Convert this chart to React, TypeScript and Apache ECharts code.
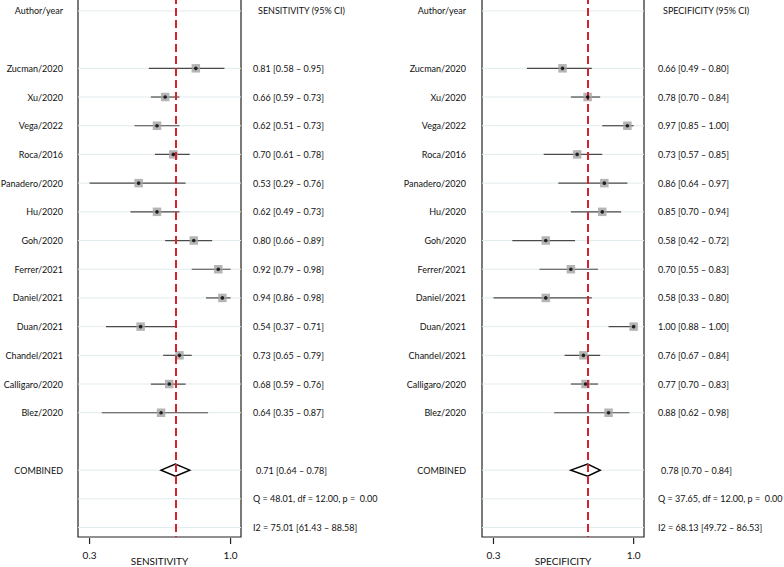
import React, { useEffect, useRef } from "react";
import * as echarts from "echarts";

const studies = [
  "Zucman/2020", "Xu/2020", "Vega/2022", "Roca/2016", "Panadero/2020", "Hu/2020", "Goh/2020",
  "Ferrer/2021", "Daniel/2021", "Duan/2021", "Chandel/2021", "Calligaro/2020", "Blez/2020",
];
const sensEst = [0.81, 0.66, 0.62, 0.70, 0.53, 0.62, 0.80, 0.92, 0.94, 0.54, 0.73, 0.68, 0.64];
const sensLo = [0.58, 0.59, 0.51, 0.61, 0.29, 0.49, 0.66, 0.79, 0.86, 0.37, 0.65, 0.59, 0.35];
const sensHi = [0.95, 0.73, 0.73, 0.78, 0.76, 0.73, 0.89, 0.98, 0.98, 0.71, 0.79, 0.76, 0.87];
const specEst = [0.66, 0.78, 0.97, 0.73, 0.86, 0.85, 0.58, 0.70, 0.58, 1.00, 0.76, 0.77, 0.88];
const specLo = [0.49, 0.70, 0.85, 0.57, 0.64, 0.70, 0.42, 0.55, 0.33, 0.88, 0.67, 0.70, 0.62];
const specHi = [0.80, 0.84, 1.00, 0.85, 0.97, 0.94, 0.72, 0.83, 0.80, 1.00, 0.84, 0.83, 0.98];
const sensCombined = [0.71, 0.64, 0.78];
const specCombined = [0.78, 0.70, 0.84];
const sensStats = ["Q = 48.01, df = 12.00, p =  0.00", "I2 = 75.01 [61.43 \u2013 88.58]"];
const specStats = ["Q = 37.65, df = 12.00, p =  0.00", "I2 = 68.13 [49.72 \u2013 86.53]"];
const headers = ["Author/year", "SENSITIVITY (95% CI)", "SPECIFICITY (95% CI)"];
const axisNames = ["SENSITIVITY", "SPECIFICITY"];
const combinedLabel = "COMBINED";

const FONT = "Lato";
const FS = 9.0;
const fmt = (e: number, l: number, h: number) => `${e.toFixed(2)} [${l.toFixed(2)} \u2013 ${h.toFixed(2)}]`;

export default function App() {
  const ref = useRef<HTMLDivElement>(null);
  useEffect(() => {
    const chart = echarts.init(ref.current!, null, { renderer: "svg" });
    const panels = [
      { est: sensEst, lo: sensLo, hi: sensHi, comb: sensCombined, stats: sensStats, header: headers[1], name: axisNames[0], left: 78, width: 163, lblOff: 15, valOff: 12 },
      { est: specEst, lo: specLo, hi: specHi, comb: specCombined, stats: specStats, header: headers[2], name: axisNames[1], left: 482, width: 162, lblOff: 16, valOff: 14 },
    ];
    const grids: any[] = [];
    const xAxes: any[] = [];
    const yAxes: any[] = [];
    const series: any[] = [];
    const contentRows = [0, ...studies.map((_, i) => i + 2), 16, 17, 18];
    panels.forEach((p, k) => {
      const tLo = Math.min(...p.lo);
      const tHi = Math.max(...p.hi);
      const span = tHi - tLo;
      const xmin = tLo - 0.082 * span;
      const xmax = tHi + 0.074 * span;
      grids.push({
        left: p.left, width: p.width, top: -4, height: 541, outerBoundsMode: "none", containLabel: false,
        show: true, borderColor: "#222", borderWidth: 1.2, backgroundColor: "transparent",
      });
      xAxes.push({
        gridIndex: k, type: "value", min: xmin, max: xmax,
        axisLine: { show: false }, splitLine: { show: false }, axisTick: { show: false },
        axisLabel: { customValues: [tLo, tHi], formatter: (v: number) => v.toFixed(1), fontSize: 10, color: "#111", margin: 13, fontFamily: FONT },
        name: p.name, nameLocation: "middle", nameGap: 19, nameMoveOverlap: false,
        nameTextStyle: { fontSize: 10, color: "#111", fontFamily: FONT },
      });
      yAxes.push({ gridIndex: k, type: "value", inverse: true, min: -0.52, max: 18.33, show: false });

      // horizontal row lines
      series.push({
        type: "custom", xAxisIndex: k, yAxisIndex: k, silent: true, clip: false,
        encode: { x: 0, y: 1 },
        data: contentRows.map((r) => [xmin, r]),
        renderItem: (params: any, api: any) => {
          const y = api.coord([xmin, api.value(1)])[1];
          const cs = params.coordSys;
          return { type: "line", shape: { x1: cs.x, y1: y, x2: cs.x + cs.width, y2: y }, style: { stroke: "#e2ebee", lineWidth: 1 } };
        },
        z: 1,
      });
      // axis ticks
      series.push({
        type: "custom", xAxisIndex: k, yAxisIndex: k, silent: true, clip: false,
        encode: { x: 0, y: 1 },
        data: [[tLo, 18.33], [tHi, 18.33]],
        renderItem: (params: any, api: any) => {
          const x = api.coord([api.value(0), api.value(1)])[0];
          const cs = params.coordSys;
          const yb = cs.y + cs.height;
          return { type: "line", shape: { x1: x, y1: yb + 1, x2: x, y2: yb + 7 }, style: { stroke: "#222", lineWidth: 1.2 } };
        },
        z: 2,
      });
      // CI lines
      series.push({
        type: "custom", xAxisIndex: k, yAxisIndex: k, silent: true,
        encode: { x: [0, 1], y: 2 },
        data: p.lo.map((l, i) => [l, p.hi[i], i + 2]),
        renderItem: (params: any, api: any) => {
          const a = api.coord([api.value(0), api.value(2)]);
          const b = api.coord([api.value(1), api.value(2)]);
          return { type: "line", shape: { x1: a[0], y1: a[1], x2: b[0], y2: b[1] }, style: { stroke: "#4a4a4a", lineWidth: 1.2 } };
        },
        z: 3,
      });
      // squares
      series.push({
        type: "scatter", xAxisIndex: k, yAxisIndex: k, silent: true,
        symbol: "rect", symbolSize: 8.5, itemStyle: { color: "#a3a3a3" },
        data: p.est.map((e, i) => [e, i + 2]),
        z: 4,
        markLine: {
          silent: true, symbol: ["none", "none"], label: { show: false },
          lineStyle: { color: "#d6222e", type: [8, 4], width: 2 },
          data: [{ xAxis: p.comb[0] }],
        },
      });
      // dots
      series.push({
        type: "scatter", xAxisIndex: k, yAxisIndex: k, silent: true,
        symbol: "circle", symbolSize: 3.6, itemStyle: { color: "#000" },
        data: p.est.map((e, i) => [e, i + 2]),
        z: 5,
      });
      // diamond
      series.push({
        type: "custom", xAxisIndex: k, yAxisIndex: k, silent: true,
        encode: { x: [0, 1, 2], y: 3 },
        data: [[p.comb[1], p.comb[0], p.comb[2], 16]],
        renderItem: (params: any, api: any) => {
          const r = api.value(3);
          const a = api.coord([api.value(0), r]);
          const m = api.coord([api.value(1), r]);
          const b = api.coord([api.value(2), r]);
          return {
            type: "polygon",
            shape: { points: [[a[0], a[1]], [m[0], m[1] - 6], [b[0], b[1]], [m[0], m[1] + 6]] },
            style: { fill: "#fff", stroke: "#000", lineWidth: 1.5 },
          };
        },
        z: 3,
      });
      // text: left labels and right values
      const leftTexts: [number, string][] = [[0, headers[0]], ...studies.map((s, i) => [i + 2, s] as [number, string]), [16, combinedLabel]];
      const rightTexts: [number, string, number][] = [
        [0, p.header, 5],
        ...p.est.map((e, i) => [i + 2, fmt(e, p.lo[i], p.hi[i]), 0] as [number, string, number]),
        [16, fmt(p.comb[0], p.comb[1], p.comb[2]), 3],
        [17, p.stats[0], 0],
        [18, p.stats[1], 0],
      ];
      series.push({
        type: "custom", xAxisIndex: k, yAxisIndex: k, silent: true, clip: false,
        encode: { x: 0, y: 1 },
        data: leftTexts.map((t, i) => [xmin, t[0], i]),
        renderItem: (params: any, api: any) => {
          const y = api.coord([xmin, api.value(1)])[1];
          const cs = params.coordSys;
          return {
            type: "text", x: cs.x - p.lblOff, y,
            style: { text: leftTexts[api.value(2)][1], fill: "#111", font: `${FS}px ${FONT}`, align: "right", verticalAlign: "middle" },
          };
        },
        z: 6,
      });
      series.push({
        type: "custom", xAxisIndex: k, yAxisIndex: k, silent: true, clip: false,
        encode: { x: 0, y: 1 },
        data: rightTexts.map((t, i) => [xmin, t[0], i]),
        renderItem: (params: any, api: any) => {
          const y = api.coord([xmin, api.value(1)])[1];
          const cs = params.coordSys;
          const t = rightTexts[api.value(2)];
          return {
            type: "text", x: cs.x + cs.width + p.valOff + t[2], y,
            style: { text: t[1], fill: "#111", font: `${FS}px ${FONT}`, align: "left", verticalAlign: "middle" },
          };
        },
        z: 6,
      });
    });

    chart.setOption({
      animation: false,
      backgroundColor: "#fff",
      textStyle: { fontFamily: FONT },
      grid: grids,
      xAxis: xAxes,
      yAxis: yAxes,
      series,
    });
    return () => chart.dispose();
  }, []);
  return <div ref={ref} style={{ position: "fixed", left: 0, top: 0, width: 784, height: 567 }} />;
}
